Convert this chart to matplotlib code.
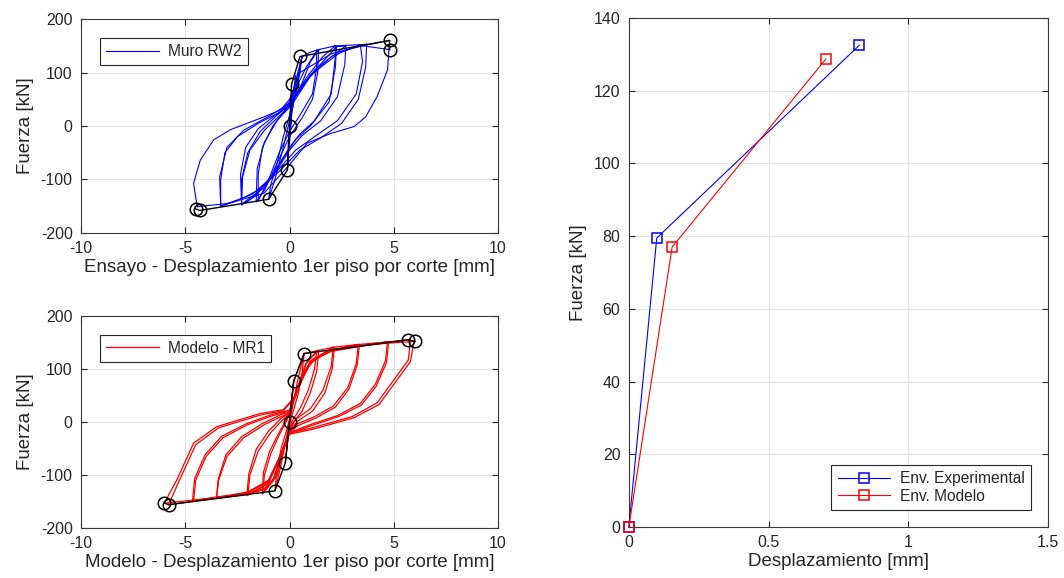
import matplotlib
matplotlib.use('Agg')
import matplotlib.pyplot as plt

plt.rcParams['font.family'] = ['Liberation Sans', 'DejaVu Sans']
plt.rcParams['axes.unicode_minus'] = False

# ensayo (RW2) - lazos de histeresis
exp_loops = [
    ([0, 0.1, 0.3, 0.25, 0.1, -0.05, -0.1, -0.05, 0.05, 0.1],
     [0, 40, 95, 60, 20, -30, -82, -50, -10, 20]),
    ([0, 0.2, 0.6, 0.5, 0.3, 0.0, -0.3, -0.7, -1.0, -0.9, -0.6, -0.3, 0.0, 0.3, 0.6],
     [0, 70, 130, 100, 60, 10, -40, -100, -137, -110, -70, -20, 20, 70, 130]),
    ([0.6, 1.0, 1.3, 1.3, 1.1, 0.5, 0.0, -0.5, -1.0, -1.5, -1.5, -1.3, -0.8, -0.2, 0.3, 0.8, 1.3],
     [130, 138, 142, 110, 60, 20, -10, -50, -100, -140, -90, -40, 0, 30, 70, 110, 140]),
    ([1.3, 1.4, 1.35, 1.1, 0.6, 0.0, -0.6, -1.2, -1.6, -1.55, -1.2, -0.6, 0.0, 0.6, 1.0, 1.4],
     [140, 143, 100, 50, 15, -20, -70, -120, -142, -80, -30, 10, 35, 80, 120, 143]),
    ([1.3, 2.2, 2.2, 2.0, 1.2, 0.5, 0.0, -0.8, -1.6, -2.3, -2.3, -2.0, -1.4, -0.6, 0.0, 0.8, 1.6, 2.2],
     [142, 150, 130, 60, 10, -15, -40, -90, -130, -148, -100, -50, -10, 20, 40, 90, 130, 150]),
    ([2.2, 2.25, 2.2, 1.9, 1.0, 0.3, -0.3, -1.2, -2.3, -2.35, -2.1, -1.5, -0.7, 0.0, 1.0, 2.25],
     [150, 148, 110, 45, 0, -25, -60, -115, -146, -90, -40, -5, 20, 38, 95, 148]),
    ([2.2, 2.7, 2.65, 2.3, 1.5, 0.6, 0.0, -0.8, -1.9, -2.3, -2.25, -1.9, -1.2, -0.4, 0.2, 1.2, 2.7],
     [148, 150, 115, 55, 10, -18, -45, -95, -138, -147, -95, -45, -8, 22, 45, 105, 150]),
    ([2.2, 3.4, 3.5, 3.2, 2.3, 1.2, 0.3, -0.5, -1.5, -2.5, -3.3, -3.3, -3.1, -2.5, -1.5, -0.5, 0.0, 0.8, 2.0, 3.4],
     [150, 152, 120, 60, 10, -20, -45, -80, -120, -140, -150, -100, -50, -20, 5, 25, 45, 85, 130, 152]),
    ([3.4, 3.7, 3.65, 3.3, 2.5, 1.5, 0.5, -0.5, -1.8, -3.3, -3.35, -3.0, -2.2, -1.0, 0.0, 1.0, 2.5, 3.7],
     [152, 153, 110, 50, 5, -22, -45, -85, -128, -150, -95, -40, -8, 18, 42, 95, 140, 153]),
    ([3.5, 4.8, 4.7, 4.2, 3.65, 3.1, 1.97, 0.85, 0.05, -1.23, -3.0, -4.43, -4.6, -4.28, -3.64, -2.84, -1.23, -0.43, 0.0, 0.5, 2.0, 3.5, 4.8],
     [150, 160, 105, 55, 17, -1, -14, -32, -70, -126, -145, -151, -107, -64, -26, -7, 17, 30, 50, 100, 135, 150, 143]),
]
exp_env_x = [4.8, 4.8, 0.5, 0.1, 0.0, -0.1, -1.0, -4.3, -4.5]
exp_env_y = [143, 160, 130, 78, 0, -82, -137, -158, -155]

# modelo (MR1)
mod_loops = [
    ([0, 0.2, 0.1, 0, -0.2, -0.1, 0, 0.2],
     [0, 77, 40, 0, -77, -40, 0, 77]),
    ([0.2, 0.7, 0.6, 0.4, 0.1, -0.1, -0.4, -0.7, -0.6, -0.4, -0.1, 0.1, 0.4, 0.7],
     [77, 129, 90, 50, 10, -20, -80, -130, -90, -50, -10, 20, 80, 129]),
    ([0.7, 1.3, 1.2, 0.9, 0.5, 0.1, -0.3, -0.8, -1.3, -1.2, -0.9, -0.5, -0.1, 0.3, 0.8, 1.3],
     [129, 134, 100, 60, 25, 0, -50, -110, -135, -100, -60, -25, 5, 50, 110, 134]),
    ([1.3, 1.4, 1.3, 1.0, 0.6, 0.1, -0.3, -0.8, -1.3, -1.25, -0.95, -0.5, -0.1, 0.3, 0.8, 1.4],
     [134, 135, 95, 55, 20, -5, -55, -112, -136, -95, -55, -20, 8, 55, 112, 135]),
    ([1.3, 2.1, 2.0, 1.6, 1.0, 0.3, 0.0, -0.4, -1.0, -2.0, -1.9, -1.5, -0.9, -0.3, 0.0, 0.4, 1.0, 2.1],
     [134, 141, 105, 60, 25, 5, -15, -60, -115, -138, -100, -55, -20, 5, 15, 65, 115, 141]),
    ([2.1, 2.15, 2.05, 1.7, 1.1, 0.4, 0.0, -0.4, -1.1, -2.05, -1.95, -1.6, -1.0, -0.4, 0.0, 0.4, 1.1, 2.15],
     [141, 140, 100, 55, 20, 2, -17, -62, -118, -139, -98, -52, -17, 7, 17, 67, 117, 140]),
    ([2.1, 3.3, 3.2, 2.8, 2.1, 1.2, 0.3, 0.0, -0.4, -1.0, -2.0, -3.5, -3.4, -3.0, -2.2, -1.2, -0.3, 0.0, 0.4, 1.0, 2.0, 3.3],
     [141, 146, 110, 65, 30, 10, -5, -18, -60, -110, -132, -144, -110, -65, -30, -5, 12, 18, 65, 112, 135, 146]),
    ([3.3, 3.35, 3.25, 2.85, 2.2, 1.3, 0.4, 0.0, -0.4, -1.0, -2.0, -3.5, -3.42, -3.05, -2.3, -1.3, -0.4, 0.0, 0.4, 1.0, 2.0, 3.35],
     [146, 145, 108, 62, 28, 8, -7, -20, -62, -112, -133, -144, -108, -62, -28, -3, 14, 20, 68, 114, 136, 145]),
    ([3.3, 4.7, 4.6, 4.1, 3.4, 2.3, 1.0, 0.0, -0.4, -1.0, -2.0, -4.6, -4.5, -4.0, -3.2, -2.0, -0.8, 0.0, 0.4, 1.0, 2.0, 4.7],
     [146, 151, 115, 70, 35, 12, -5, -20, -60, -110, -133, -148, -110, -65, -30, -5, 12, 20, 62, 112, 135, 151]),
    ([4.7, 4.75, 4.65, 4.15, 3.45, 2.35, 1.05, 0.0, -0.4, -1.0, -2.0, -4.65, -4.55, -4.05, -3.25, -2.05, -0.85, 0.0, 0.4, 1.0, 2.0, 4.75],
     [151, 150, 112, 67, 32, 10, -7, -22, -62, -112, -134, -149, -107, -62, -27, -3, 14, 22, 64, 114, 136, 150]),
    ([4.7, 5.8, 5.7, 5.0, 4.2, 3.0, 1.0, 0.0, -0.3, -0.6, -1.2, -2.0, -4.0, -6.0, -5.4, -4.6, -3.5, -1.4, -0.3, 0.3, 0.6, 1.2, 2.0, 3.5, 6.0],
     [151, 155, 117, 79, 36, 10, -12, -21, -50, -100, -125, -135, -145, -153, -109, -40, -9, 16, 23, 50, 90, 120, 135, 145, 152]),
    ([6.0, 5.95, 5.8, 5.1, 4.3, 3.1, 1.1, 0.0, -0.3, -0.6, -1.2, -2.0, -4.0, -5.8, -5.3, -4.5, -3.4, -1.3, -0.3, 0.3, 0.6, 1.2, 2.0, 3.5, 5.7],
     [152, 148, 114, 76, 33, 8, -14, -23, -52, -102, -127, -137, -147, -156, -112, -43, -11, 14, 21, 48, 88, 118, 133, 143, 155]),
]
mod_env_x = [6.0, 5.7, 0.7, 0.2, 0.0, -0.2, -0.7, -5.8, -6.0]
mod_env_y = [152, 155, 129, 77, 0, -77, -130, -156, -153]

# envolventes
env_exp_x = [0.0, 0.1, 0.825]
env_exp_y = [0.0, 79.5, 132.5]
env_mod_x = [0.0, 0.155, 0.705]
env_mod_y = [0.0, 77.0, 128.7]

TXT = '#262626'


def style(ax):
    ax.grid(True, color='#e3e3e3', linewidth=0.8)
    ax.set_axisbelow(True)
    ax.tick_params(direction='in', top=True, right=True, labelsize=11.5,
                   colors=TXT, length=4, pad=6)
    for s in ax.spines.values():
        s.set_color('#3a3a3a')
        s.set_linewidth(0.8)


def leg(ax, loc, pad):
    lg = ax.legend(loc=loc, fontsize=11.2, fancybox=False, edgecolor=TXT,
                   framealpha=1, handlelength=3.4, borderaxespad=pad,
                   labelspacing=0.15, handletextpad=0.6)
    lg.get_frame().set_linewidth(0.8)
    for t in lg.get_texts():
        t.set_color(TXT)


fig = plt.figure(figsize=(10.64, 5.78), dpi=100)

ax1 = fig.add_axes([0.0761, 0.597, 0.392, 0.370])
for i, (xs, ys) in enumerate(exp_loops):
    ax1.plot(xs, ys, color='#0000ff', linewidth=0.8,
             label='Muro RW2' if i == 0 else None)
ax1.plot(exp_env_x, exp_env_y, color='black', linewidth=1.0, marker='o',
         markersize=9, markerfacecolor='none', markeredgewidth=1.1)
ax1.set_xlim(-10, 10)
ax1.set_ylim(-200, 200)
ax1.set_xticks([-10, -5, 0, 5, 10])
ax1.set_yticks([-200, -100, 0, 100, 200])
ax1.set_xlabel('Ensayo - Desplazamiento 1er piso por corte [mm]', fontsize=13.5,
               labelpad=2, color=TXT)
ax1.set_ylabel('Fuerza [kN]', fontsize=13.5, labelpad=5, color=TXT)
style(ax1)
leg(ax1, 'upper left', 1.2)

ax2 = fig.add_axes([0.0761, 0.0865, 0.392, 0.367])
for i, (xs, ys) in enumerate(mod_loops):
    ax2.plot(xs, ys, color='#ff0000', linewidth=0.9,
             label='Modelo - MR1' if i == 0 else None)
ax2.plot(mod_env_x, mod_env_y, color='black', linewidth=1.0, marker='o',
         markersize=9, markerfacecolor='none', markeredgewidth=1.1)
ax2.set_xlim(-10, 10)
ax2.set_ylim(-200, 200)
ax2.set_xticks([-10, -5, 0, 5, 10])
ax2.set_yticks([-200, -100, 0, 100, 200])
ax2.set_xlabel('Modelo - Desplazamiento 1er piso por corte [mm]', fontsize=13.5,
               labelpad=2, color=TXT)
ax2.set_ylabel('Fuerza [kN]', fontsize=13.5, labelpad=5, color=TXT)
style(ax2)
leg(ax2, 'upper left', 1.2)

ax3 = fig.add_axes([0.591, 0.088, 0.394, 0.881])
ax3.plot(env_exp_x, env_exp_y, color='#0000ff', linewidth=0.8, marker='s',
         markersize=6.5, markerfacecolor='none', markeredgewidth=1.1,
         label='Env. Experimental', clip_on=False, zorder=3)
ax3.plot(env_mod_x, env_mod_y, color='#ff0000', linewidth=0.8, marker='s',
         markersize=6.5, markerfacecolor='none', markeredgewidth=1.1,
         label='Env. Modelo', clip_on=False, zorder=3)
ax3.set_xlim(0, 1.5)
ax3.set_ylim(0, 140)
ax3.set_xticks([0, 0.5, 1, 1.5])
ax3.set_xticklabels(['0', '0.5', '1', '1.5'])
ax3.set_yticks(range(0, 141, 20))
ax3.set_xlabel('Desplazamiento [mm]', fontsize=13.5, labelpad=2, color=TXT)
ax3.set_ylabel('Fuerza [kN]', fontsize=13.5, labelpad=5, color=TXT)
style(ax3)
leg(ax3, 'lower right', 1.1)

fig.savefig('out.png', dpi=100)
